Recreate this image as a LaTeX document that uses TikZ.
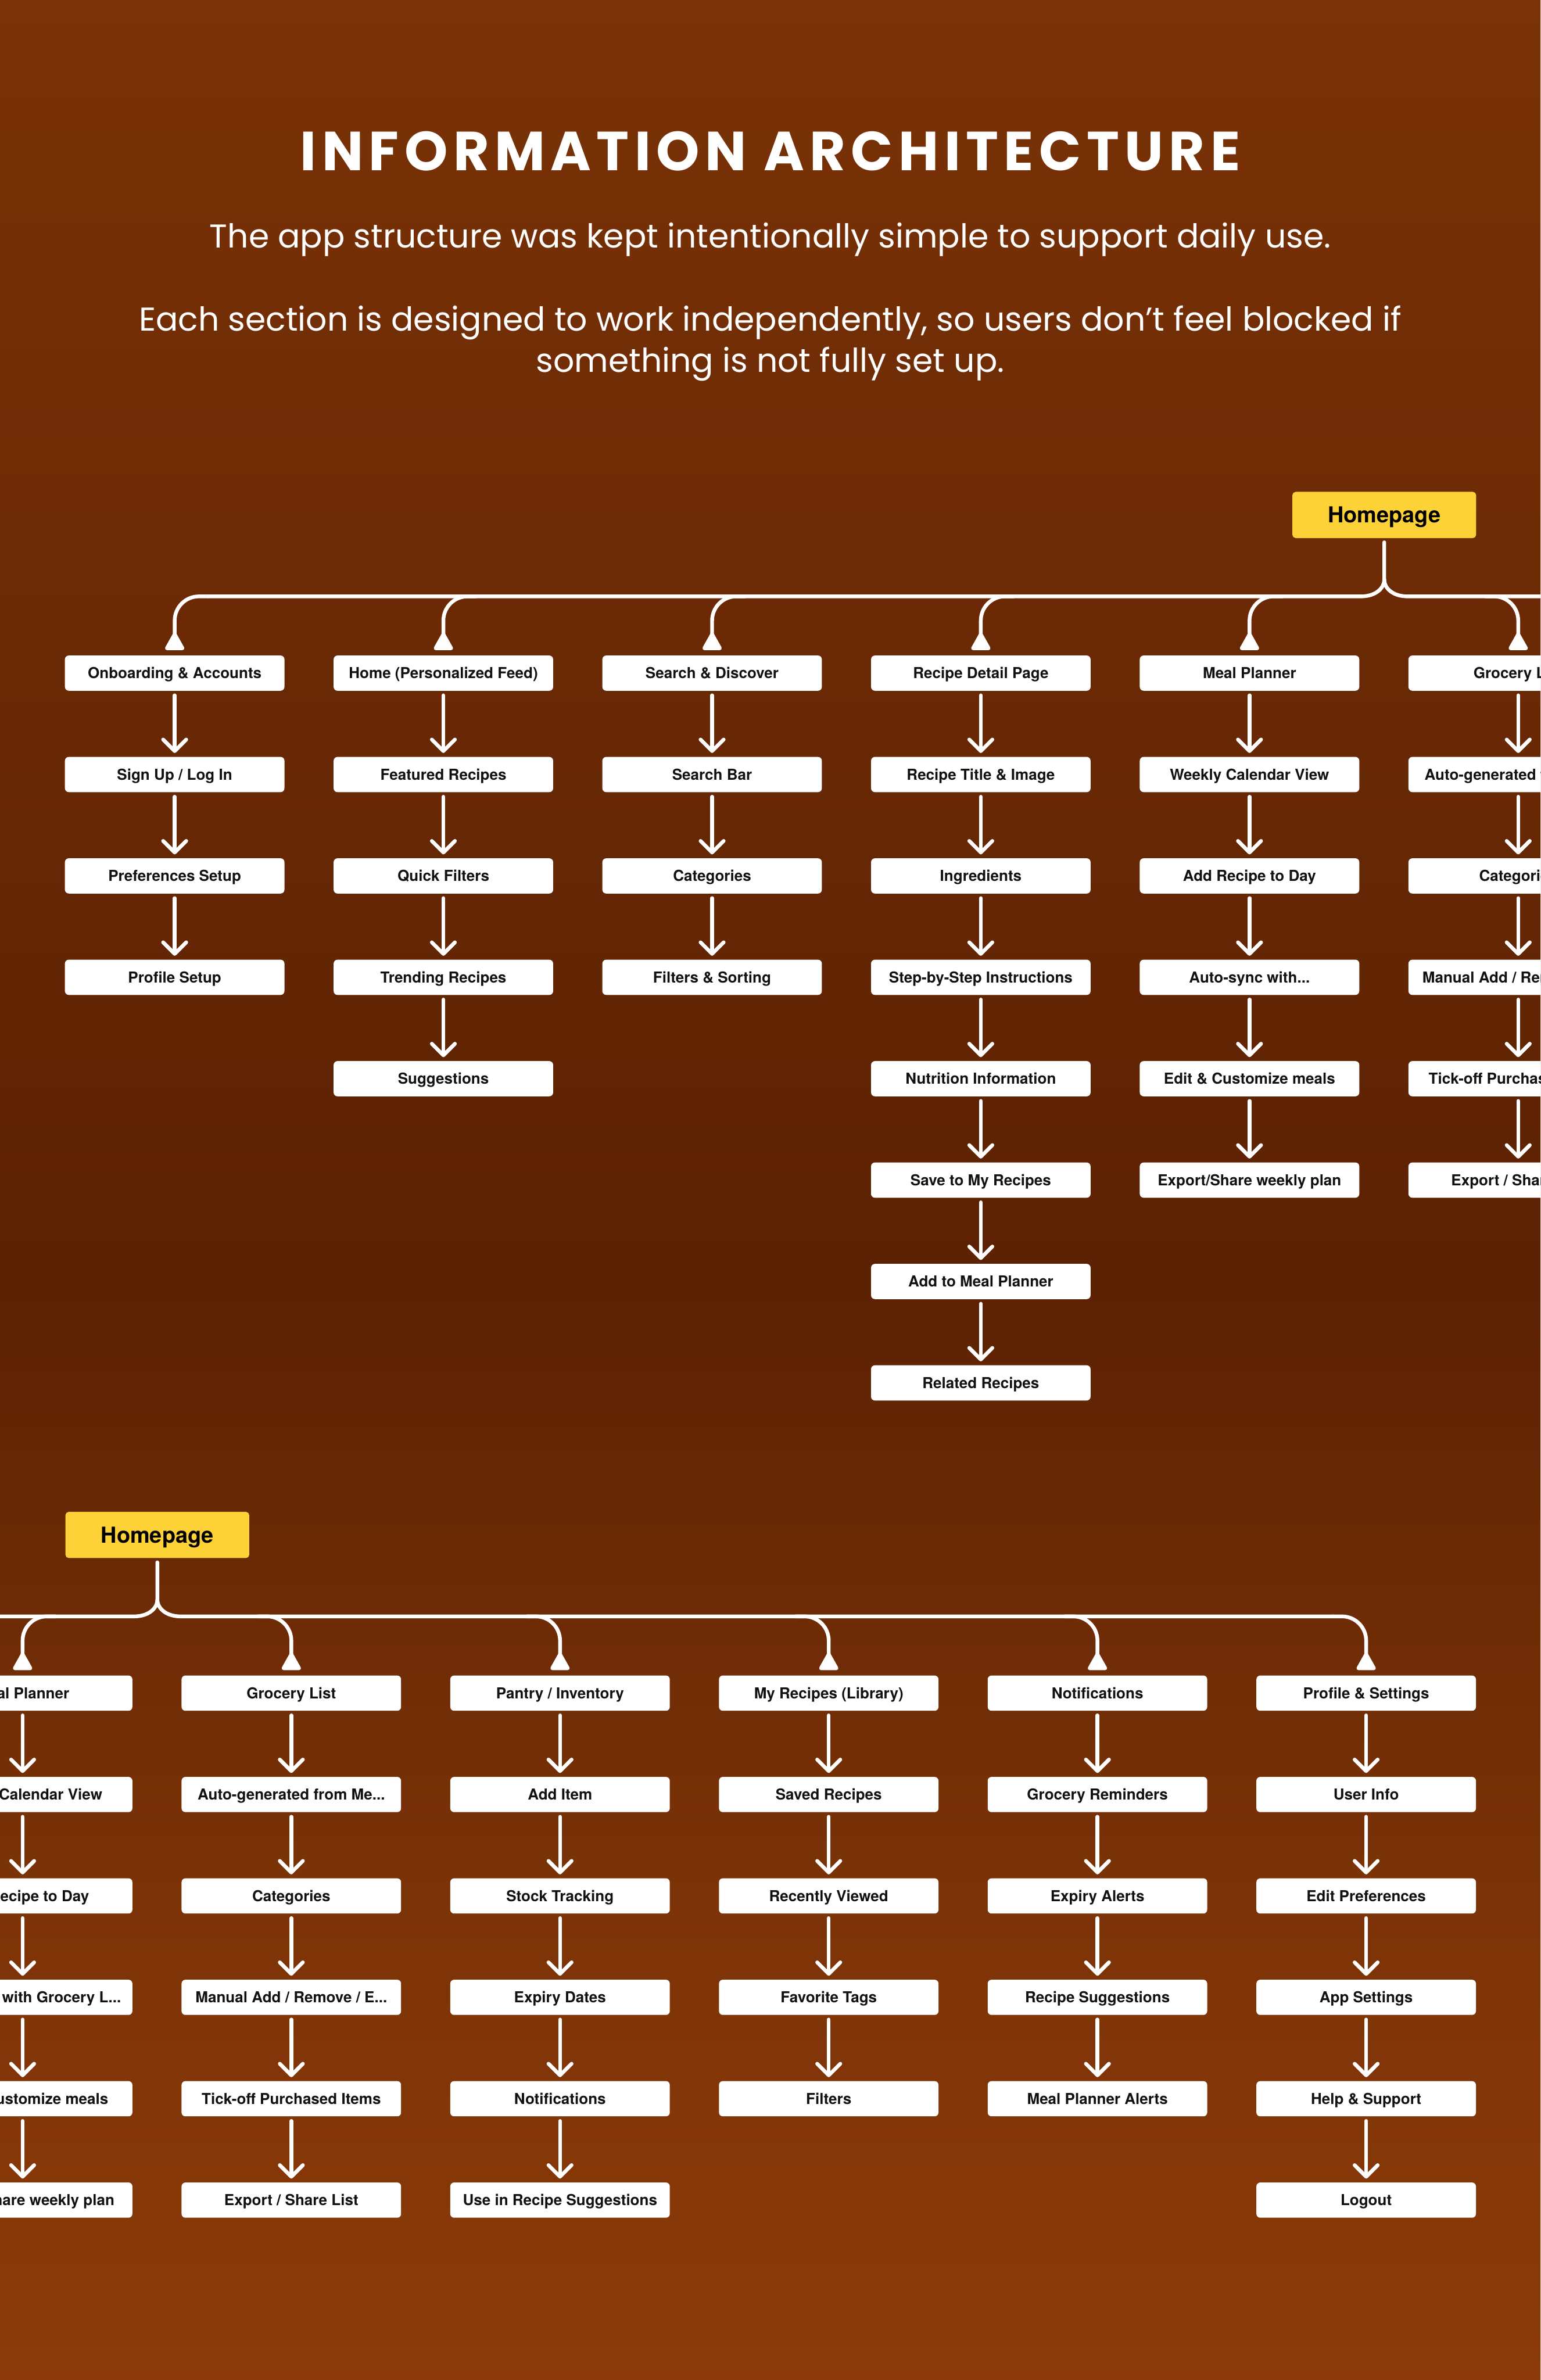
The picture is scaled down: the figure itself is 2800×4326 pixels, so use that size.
\documentclass[tikz,border=0pt]{standalone}
\usepackage{fontspec}
\setmainfont{TeX Gyre Heros}
\newfontfamily\poppins{Poppins}
\newfontfamily\poppinsT[LetterSpace=10]{Poppins}
\usetikzlibrary{arrows.meta,fadings}

\definecolor{hpyellow}{HTML}{FDD236}
\definecolor{boxtext}{HTML}{111111}
\definecolor{bgtop}{HTML}{7B3307}
\definecolor{bgup}{HTML}{6C2A05}
\definecolor{bgmid}{HTML}{5C2204}
\definecolor{bgb2}{HTML}{7C3307}
\definecolor{bgbot}{HTML}{8C3A09}

\pgfdeclareverticalshading{iabg}{100bp}{color(0bp)=(bgbot); color(25bp)=(bgbot); color(35bp)=(bgb2); color(48bp)=(bgmid); color(63bp)=(bgup); color(75bp)=(bgtop); color(100bp)=(bgtop)}

\newcommand\tdots{...}

\tikzset{
  iabox/.style={rectangle, rounded corners=1.75pt, fill=white, minimum width=99.75pt,
    minimum height=16pt, inner sep=0pt, text=boxtext, text height=4.95pt, text depth=0pt,
    font=\bfseries\fontsize{6.875pt}{8pt}\selectfont},
  hpbox/.style={rectangle, rounded corners=1.5pt, fill=hpyellow, minimum width=83.5pt,
    minimum height=21pt, inner sep=0pt, text=black, text height=7.15pt, text depth=0pt,
    font=\bfseries\fontsize{10pt}{12pt}\selectfont},
  conn/.style={draw=white, line width=1.7pt, line cap=round},
  flow/.style={conn, shorten <=1.9pt, shorten >=1.6pt,
    -{Straight Barb[length=5.25pt,width=10.5pt,round]}},
  branch/.style={conn, rounded corners=11pt,
    -{Triangle[reversed,length=9pt,width=9.5pt,round]}},
  titletext/.style={anchor=base, text=white, inner sep=0pt,
    font=\poppinsT\bfseries\fontsize{25pt}{30pt}\selectfont},
  subtext/.style={anchor=base, text=white, inner sep=0pt,
    font=\poppins\fontsize{15pt}{18pt}\selectfont},
}

% #1 prefix, #2 x centre, #3 y of horizontal line, #4 side (+1 curve from right, -1 from left), #5 labels
\newcommand\iacol[5]{%
  \foreach \lbl [count=\k] in {#5}{%
    \node[iabox] (#1-\k) at (#2,{#3+139.5+184.3*(\k-1)}) {\lbl};
    \ifnum\k>1
      \pgfmathtruncatemacro\kp{\k-1}%
      \draw[flow] (#1-\kp) -- (#1-\k);
    \fi
  }%
  \coordinate (#1-b) at ({#2+#4*60},#3);
  \draw[branch] (#1-b) -| ([yshift=2.25pt]#1-1.north);
}

\begin{document}
\begin{tikzpicture}[x=0.25pt,y=-0.25pt]
\useasboundingbox (0,0) rectangle (2800,4326);
\clip (0,0) rectangle (2800,4326);
\shade[shading=iabg] (0,0) rectangle (2800,4326);

% Header
\node[titletext] (title) at (1400,310) {INFORMATION ARCHITECTURE};
\node[subtext] (sub1) at (1400,450) {The app structure was kept intentionally simple to support daily use.};
\node[subtext] (sub2) at (1400,601) {Each section is designed to work independently, so users don’t feel blocked if};
\node[subtext] (sub3) at (1400,676) {something is not fully set up.};

% ---------- Top view ----------
\node[hpbox] (tHP) at (2516,936) {Homepage};
\coordinate (tS) at (2516,1053);
\coordinate (tE) at (2815,1084);

\iacol{tA}{317.5}{1084}{1}{Onboarding \& Accounts, Sign Up / Log In, Preferences Setup, Profile Setup}
\iacol{tB}{805.9}{1084}{1}{Home (Personalized Feed), Featured Recipes, Quick Filters, Trending Recipes, Suggestions}
\iacol{tC}{1294.3}{1084}{1}{Search \& Discover, Search Bar, Categories, Filters \& Sorting}
\iacol{tD}{1782.7}{1084}{1}{Recipe Detail Page, Recipe Title \& Image, Ingredients, Step-by-Step Instructions, Nutrition Information, Save to My Recipes, Add to Meal Planner, Related Recipes}
\iacol{tE5}{2271.1}{1084}{1}{Meal Planner, Weekly Calendar View, Add Recipe to Day, Auto-sync with\tdots, Edit \& Customize meals, Export/Share weekly plan}
\iacol{tF}{2759.5}{1084}{-1}{Grocery List, Auto-generated from Me\tdots, Categories, Manual Add / Remove / E\tdots, Tick-off Purchased Items, Export / Share List}

\draw[conn] ([yshift=-1.75pt]tHP.south) -- (tS) .. controls +(0,18) and +(24,0) .. (2474,1084) -- (tA-b);
\draw[conn] (tS) .. controls +(0,18) and +(-24,0) .. (2558,1084) -- (tE);

% ---------- Bottom view ----------
\node[hpbox] (bHP) at (286,2790) {Homepage};
\coordinate (bS) at (286,2907);
\coordinate (bE) at (-15,2938);

\iacol{bE5}{41.1}{2938}{1}{Meal Planner, Weekly Calendar View, Add Recipe to Day, Auto-sync with Grocery L\tdots, Edit \& Customize meals, Export/Share weekly plan}
\iacol{bF}{529.5}{2938}{-1}{Grocery List, Auto-generated from Me\tdots, Categories, Manual Add / Remove / E\tdots, Tick-off Purchased Items, Export / Share List}
\iacol{bG}{1017.9}{2938}{-1}{Pantry / Inventory, Add Item, Stock Tracking, Expiry Dates, Notifications, Use in Recipe Suggestions}
\iacol{bH}{1506.3}{2938}{-1}{My Recipes (Library), Saved Recipes, Recently Viewed, Favorite Tags, Filters}
\iacol{bI}{1994.7}{2938}{-1}{Notifications, Grocery Reminders, Expiry Alerts, Recipe Suggestions, Meal Planner Alerts}
\iacol{bJ}{2483.1}{2938}{-1}{Profile \& Settings, User Info, Edit Preferences, App Settings, Help \& Support, Logout}

\draw[conn] ([yshift=-1.75pt]bHP.south) -- (bS) .. controls +(0,18) and +(24,0) .. (244,2938) -- (bE);
\draw[conn] (bS) .. controls +(0,18) and +(-24,0) .. (328,2938) -- (bJ-b);
\end{tikzpicture}
\end{document}
